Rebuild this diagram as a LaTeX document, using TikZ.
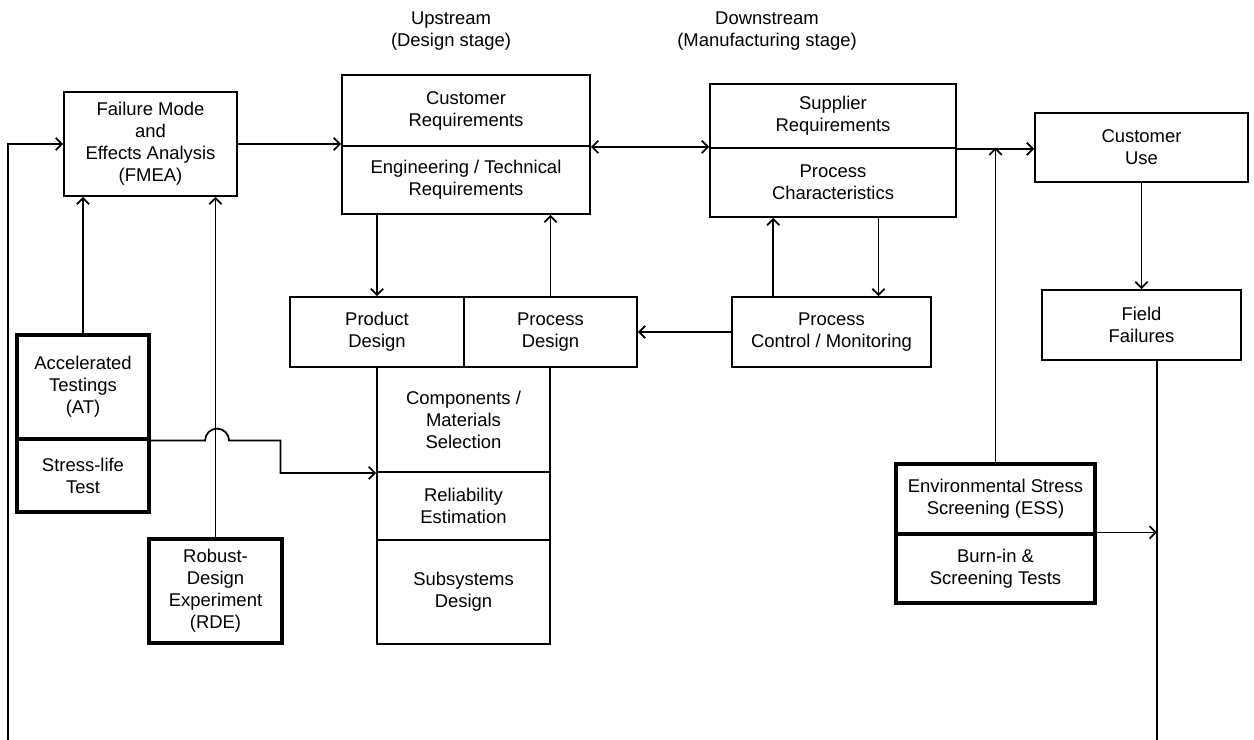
\documentclass[tikz,border=0pt]{standalone}
\usepackage{fontspec}
\setmainfont{Liberation Sans}
\usetikzlibrary{arrows.meta,calc}

\begin{document}
\begin{tikzpicture}[x=0.02cm,y=0.02cm,>={Straight Barb[length=3.5pt,width=7pt]},
        font=\fontsize{10.5}{12.5}\selectfont,
        blk/.style args={#1/#2}{draw,line width=1pt,inner sep=0pt,align=center,
          minimum width=#1*0.02cm,minimum height=#2*0.02cm},
        tblk/.style args={#1/#2}{blk={#1/#2},line width=1.8pt},
        lbl/.style={align=center,inner sep=0pt},
        arr/.style={line width=1pt}]
        \useasboundingbox (0,0) rectangle (1254,-740);
        \node[lbl](up) at (451,-31){Upstream\\(Design stage)};
        \node[lbl](down) at (767,-31){Downstream\\(Manufacturing stage)};
        % upper row
        \node[blk={173/104}](fmea) at (150.5,-144){Failure Mode\\and\\Effects Analysis\\(FMEA)};
        \node[blk={248/71}](custreq) at (466,-110.5){Customer\\Requirements};
        \node[blk={248/68}](engreq) at (466,-180){Engineering / Technical\\Requirements};
        \node[blk={246/64}](supreq) at (833,-116){Supplier\\Requirements};
        \node[blk={246/69}](procchar) at (833,-182.5){Process\\Characteristics};
        \node[blk={213/69}](custuse) at (1141.5,-147.5){Customer\\Use};
        \node[blk={199/70}](fieldf) at (1141.5,-325){Field\\Failures};
        % design column
        \node[blk={174/70}](proddes) at (377,-332){Product\\Design};
        \node[blk={173/70}](procdes) at (550.5,-332){Process\\Design};
        \node[blk={199/70}](proccon) at (831.5,-332){Process\\Control / Monitoring};
        \node[blk={173/105}](compsel) at (463.5,-419.5){Components /\\Materials\\Selection};
        \node[blk={173/68}](relest) at (463.5,-506){Reliability\\Estimation};
        \node[blk={173/104}](subsys) at (463.5,-592){Subsystems\\Design};
        % tests
        \node[tblk={132/104}](at) at (83,-387){Accelerated\\Testings\\(AT)};
        \node[tblk={132/73}](stress) at (83,-475.5){Stress-life\\Test};
        \node[tblk={133/104}](rde) at (215.5,-591){Robust-\\Design\\Experiment\\(RDE)};
        \node[tblk={199/70}](ess) at (995.5,-499){Environmental Stress\\Screening (ESS)};
        \node[tblk={199/69}](burnin) at (995.5,-568.5){Burn-in \&\\Screening Tests};
        \coordinate (fbl) at (8,-740);
        \coordinate (ffb) at (1157,-740);
        \coordinate (pcu) at ($(proccon.north west)!.21!(proccon.north east)$);
        \coordinate (pcd) at ($(proccon.north west)!.734!(proccon.north east)$);
        % connectors
        \draw[arr,->](fbl) |- (fmea.west);
        \draw[arr,->](fmea.east) -- (fmea.east -| custreq.west);
        \draw[arr,<->](custreq.south east) -- (custreq.south east -| supreq.west);
        \draw[arr,->](supreq.south east) -- (supreq.south east -| custuse.west);
        \draw[arr,->](ess.north) -- (ess.north |- custuse.west);
        \draw[arr,->](custuse) -- (fieldf);
        \draw[arr](fieldf.south -| ffb) -- (ffb);
        \draw[arr,->](burnin.north east) -- (burnin.north east -| ffb);
        \draw[arr,->](engreq.south -| proddes.north) -- (proddes.north);
        \draw[arr,->](procdes.north) -- (procdes.north |- engreq.south);
        \draw[arr,->](proccon.west) -- (procdes.east);
        \draw[arr,->](pcu) -- (pcu |- procchar.south);
        \draw[arr,->](pcd |- procchar.south) -- (pcd);
        \draw[arr,->](at.north) -- (at.north |- fmea.south);
        \draw[arr,->](rde.north) -- (rde.north |- fmea.south);
        \draw[arr,->](at.south east) -- ++(54.5,0) arc[start angle=180,end angle=0,radius=0.24cm]
          -- ++(51.5,0) |- (compsel.south west);
      \end{tikzpicture}
\end{document}
